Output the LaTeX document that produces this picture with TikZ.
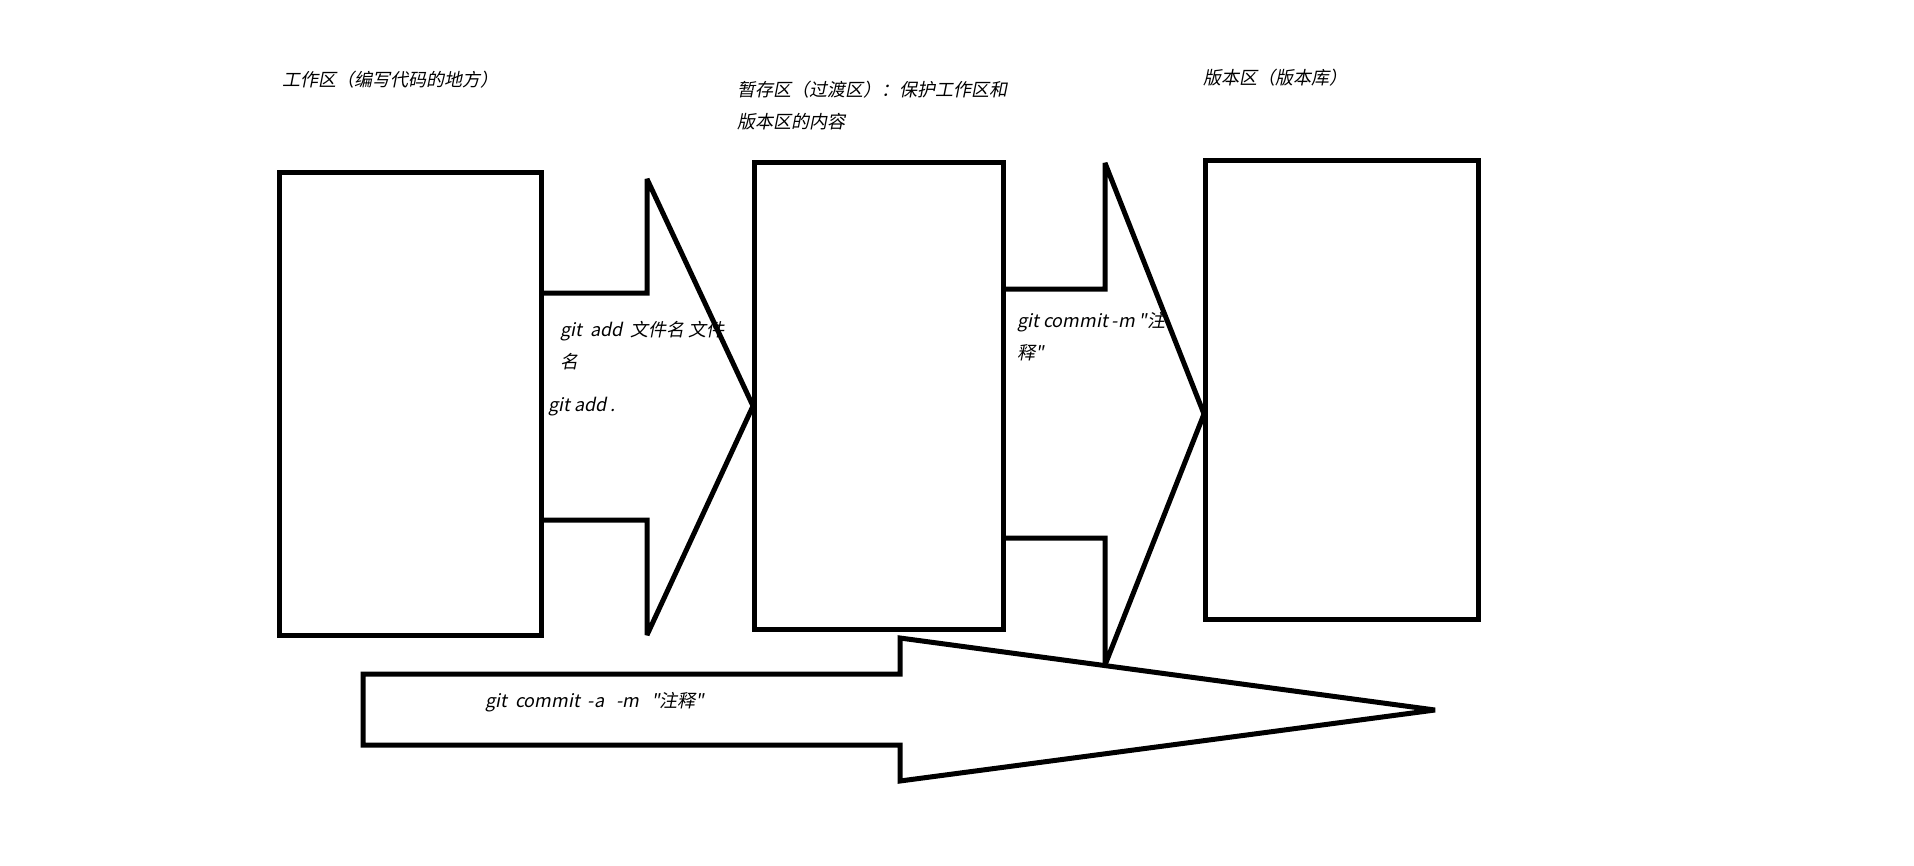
\documentclass[tikz,border=0pt]{standalone}
\usepackage{fontspec}
\newfontfamily\cjk{Noto Sans CJK SC}[FakeSlant=0.2]
\begin{document}
\begin{tikzpicture}[x=1pt,y=-1pt,
  box/.style={draw=black,line width=5pt,minimum width=#1,inner sep=0pt},
  blockarrow/.style={draw=black,line width=5pt,line join=miter,miter limit=2.5},
  lbl/.style={anchor=west,inner sep=0pt,font=\cjk\fontsize{18}{32}\selectfont,align=left}]
\useasboundingbox (0,0) rectangle (1914,865);
\node[box=262pt,minimum height=463pt] (work) at (410,403.5) {};
\node[box=249pt,minimum height=467pt] (stage) at (878.5,395.5) {};
\node[box=273pt,minimum height=459pt] (repo) at (1341.5,389.5) {};
% arrow 1
\draw[blockarrow] (work.east |- 0,293) -- (647,293) -- (647,179) -- (753,406) -- (647,635) -- (647,520) -- (work.east |- 0,520);
% arrow 2
\draw[blockarrow] (stage.east |- 0,289) -- (1105,289) -- (1105,163) -- (1204,414) -- (1105,665) -- (1105,538) -- (stage.east |- 0,538);
% big arrow
\draw[blockarrow] (363,674) -- (900,674) -- (900,638) -- (1435,710) -- (900,781) -- (900,745) -- (363,745) -- cycle;
% labels
\node[lbl] (t1) at (282,80) {工作区（编写代码的地方）};
\node[lbl] (t2) at (737,106) {暂存区（过渡区）：保护工作区和\\版本区的内容};
\node[lbl] (t3) at (1203,78) {版本区（版本库）};
\node[lbl] (a1) at (560,346) {git\ \ add\ \ 文件名 文件\\名};
\node[lbl] (a2) at (548,407) {git add .};
\node[lbl] (c1) at (1017,337) {git commit -m "注\\释"};
\node[lbl] (c2) at (485,702) {git\ \ commit\ \ -a\ \ \ -m\ \ \ "注释"};
\end{tikzpicture}
\end{document}
